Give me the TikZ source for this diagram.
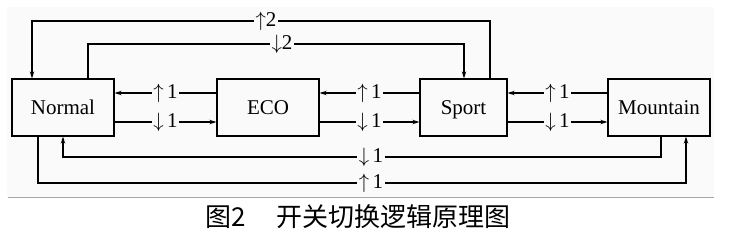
\documentclass[tikz,border=0pt]{standalone}
\usepackage{fontspec}
\setmainfont{Liberation Serif}
\newfontfamily\cjk{Noto Sans CJK SC}
\usetikzlibrary{arrows.meta}
\definecolor{panel}{HTML}{FAFAFA}
\begin{document}
\begin{tikzpicture}[x=1pt,y=-1pt,
  box/.style={draw,line width=1.3pt,minimum height=57pt,inner sep=0pt,text height=16pt,text depth=3pt,font=\fontsize{21}{24}\selectfont},
  conn/.style={line width=1.2pt,-{Stealth[length=7pt,width=4.5pt]}},
  lab/.style={fill=panel,inner sep=1.5pt,font=\fontsize{21}{24}\selectfont}]
\useasboundingbox (0,0) rectangle (729,234);
\fill[panel] (7,7) rectangle (714,197);
\draw[gray!70,line width=0.9pt] (8,197.5) -- (714,197.5);
\node[box,minimum width=102pt] (N) at (63,107.5) {Normal};
\node[box,minimum width=102pt] (E) at (268,107.5) {ECO};
\node[box,minimum width=87pt] (S) at (463.5,107.5) {Sport};
\node[box,minimum width=102pt] (M) at (659,107.5) {Mountain};
% between boxes
\draw[conn] (E.west |- 0,93) -- node[lab]{$\uparrow$\,1} (N.east |- 0,93);
\draw[conn] (N.east |- 0,122) -- node[lab]{$\downarrow$\,1} (E.west |- 0,122);
\draw[conn] (S.west |- 0,93) -- node[lab]{$\uparrow$\,1} (E.east |- 0,93);
\draw[conn] (E.east |- 0,122) -- node[lab]{$\downarrow$\,1} (S.west |- 0,122);
\draw[conn] (M.west |- 0,93) -- node[lab]{$\uparrow$\,1} (S.east |- 0,93);
\draw[conn] (S.east |- 0,122) -- node[lab]{$\downarrow$\,1} (M.west |- 0,122);
% top routes
\coordinate (t1) at (490,21);
\coordinate (t2) at (32,21);
\draw[conn] (S.north -| t1) -- (t1) -- (t2) -- (N.north -| t2);
\node[lab] at (266,21) {$\uparrow$2};
\coordinate (u1) at (88,44);
\coordinate (u2) at (464,44);
\draw[conn] (N.north -| u1) -- (u1) -- (u2) -- (S.north -| u2);
\node[lab] at (282,44) {$\downarrow$2};
% bottom routes
\coordinate (b1) at (661,157);
\coordinate (b2) at (63,157);
\draw[conn] (M.south -| b1) -- (b1) -- (b2) -- (N.south -| b2);
\node[lab] at (371,157) {$\downarrow$\,1};
\coordinate (c1) at (38,183);
\coordinate (c2) at (686,183);
\draw[conn] (N.south -| c1) -- (c1) -- (c2) -- (M.south -| c2);
\node[lab] at (371,183) {$\uparrow$\,1};
% caption
\node (cap) at (358,217) {\fontsize{26}{28}\selectfont\cjk 图2\hspace{30pt}开关切换逻辑原理图};
\end{tikzpicture}
\end{document}
